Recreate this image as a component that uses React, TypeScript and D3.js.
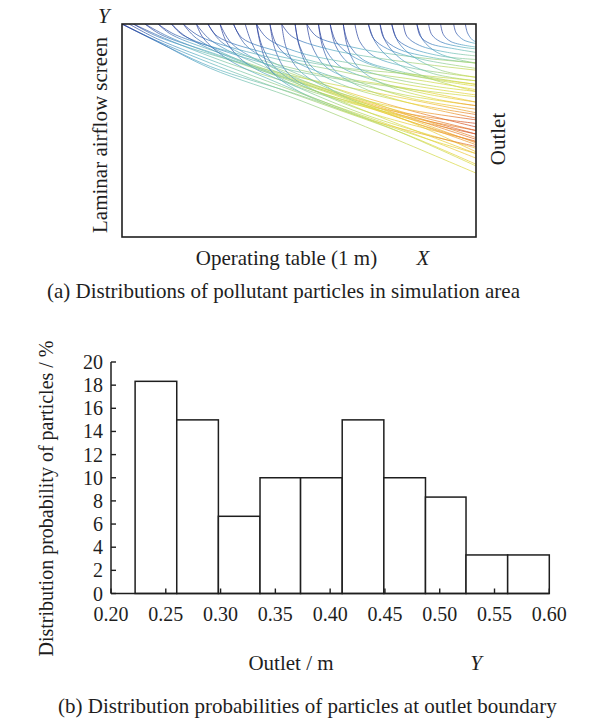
import React from "react";
import * as d3 from "d3";

const W = 591;
const H = 721;
const FONT = "'Liberation Serif', 'Times New Roman', serif";
const INK = "#1e1e1e";

// (a) particle tracks, X along the operating table (0..1 m), Y height (0..0.6 m)
const TRACKS: [number, number][][] = [
  [[0, 0.6], [0.1, 0.55], [0.25, 0.475], [0.5, 0.386], [0.75, 0.285], [1, 0.18]],
  [[0, 0.6], [0.1, 0.552], [0.3, 0.47], [0.55, 0.38], [0.8, 0.29], [1, 0.205]],
  [[0.02, 0.6], [0.1, 0.558], [0.3, 0.48], [0.6, 0.37], [0.8, 0.3], [1, 0.222]],
  [[0.032, 0.6], [0.12, 0.56], [0.3, 0.49], [0.55, 0.41], [0.8, 0.33], [1, 0.26]],
  [[0.065, 0.6], [0.13, 0.565], [0.3, 0.5], [0.55, 0.42], [0.8, 0.34], [1, 0.275]],
  [[0.102, 0.6], [0.14, 0.57], [0.3, 0.51], [0.5, 0.44], [0.75, 0.36], [1, 0.29]],
  [[0.14, 0.6], [0.18, 0.565], [0.32, 0.5], [0.55, 0.42], [0.8, 0.33], [1, 0.24]],
  [[0.173, 0.6], [0.21, 0.56], [0.35, 0.49], [0.6, 0.4], [0.8, 0.33], [1, 0.268]],
  [[0.21, 0.6], [0.25, 0.555], [0.4, 0.48], [0.6, 0.41], [0.8, 0.35], [1, 0.3]],
  [[0.243, 0.6], [0.28, 0.55], [0.4, 0.49], [0.6, 0.42], [0.8, 0.36], [1, 0.31]],
  [[0.277, 0.6], [0.31, 0.545], [0.42, 0.48], [0.62, 0.4], [0.82, 0.33], [1, 0.265]],
  [[0.315, 0.6], [0.35, 0.54], [0.45, 0.48], [0.65, 0.4], [0.85, 0.33], [1, 0.28]],
  [[0.032, 0.6], [0.1, 0.565], [0.3, 0.5], [0.5, 0.45], [0.75, 0.4], [1, 0.35]],
  [[0.102, 0.6], [0.15, 0.57], [0.35, 0.51], [0.55, 0.46], [0.8, 0.42], [1, 0.38]],
  [[0.173, 0.6], [0.22, 0.565], [0.4, 0.51], [0.6, 0.47], [0.8, 0.43], [1, 0.4]],
  [[0.348, 0.6], [0.365, 0.55], [0.4, 0.49], [0.46, 0.44], [0.6, 0.39], [0.8, 0.34], [1, 0.3]],
  [[0.38, 0.6], [0.395, 0.54], [0.43, 0.48], [0.5, 0.43], [0.65, 0.38], [0.85, 0.34], [1, 0.32]],
  [[0.418, 0.6], [0.432, 0.53], [0.47, 0.46], [0.55, 0.41], [0.7, 0.35], [1, 0.27]],
  [[0.451, 0.6], [0.465, 0.53], [0.5, 0.47], [0.58, 0.42], [0.75, 0.37], [1, 0.33]],
  [[0.489, 0.6], [0.503, 0.535], [0.54, 0.475], [0.62, 0.43], [0.8, 0.38], [1, 0.345]],
  [[0.522, 0.6], [0.536, 0.54], [0.575, 0.48], [0.66, 0.44], [0.82, 0.39], [1, 0.36]],
  [[0.555, 0.6], [0.57, 0.54], [0.61, 0.485], [0.7, 0.445], [0.85, 0.405], [1, 0.38]],
  [[0.588, 0.6], [0.603, 0.54], [0.64, 0.49], [0.73, 0.455], [0.88, 0.425], [1, 0.41]],
  [[0.625, 0.6], [0.64, 0.545], [0.68, 0.5], [0.77, 0.47], [0.9, 0.445], [1, 0.43]],
  [[0.658, 0.6], [0.672, 0.55], [0.71, 0.51], [0.8, 0.48], [0.92, 0.46], [1, 0.45]],
  [[0.38, 0.6], [0.41, 0.56], [0.5, 0.52], [0.7, 0.48], [0.85, 0.45], [1, 0.43]],
  [[0.451, 0.6], [0.48, 0.565], [0.58, 0.53], [0.75, 0.5], [1, 0.47]],
  [[0.522, 0.6], [0.55, 0.565], [0.65, 0.535], [0.8, 0.51], [1, 0.49]],
  [[0.315, 0.6], [0.34, 0.56], [0.45, 0.52], [0.65, 0.47], [0.85, 0.44], [1, 0.415]],
  [[0.243, 0.6], [0.27, 0.565], [0.4, 0.52], [0.6, 0.48], [0.8, 0.46], [1, 0.44]],
  [[0.696, 0.6], [0.71, 0.56], [0.75, 0.53], [0.85, 0.5], [1, 0.475]],
  [[0.729, 0.6], [0.74, 0.56], [0.78, 0.53], [0.88, 0.505], [1, 0.49]],
  [[0.762, 0.6], [0.775, 0.56], [0.81, 0.535], [0.9, 0.51], [1, 0.5]],
  [[0.795, 0.6], [0.805, 0.565], [0.84, 0.54], [0.92, 0.52], [1, 0.51]],
  [[0.833, 0.6], [0.843, 0.565], [0.87, 0.545], [0.94, 0.53], [1, 0.52]],
  [[0.866, 0.6], [0.875, 0.57], [0.9, 0.55], [0.96, 0.535], [1, 0.53]],
  [[0.9, 0.6], [0.908, 0.57], [0.93, 0.55], [1, 0.535]],
  [[0.937, 0.6], [0.944, 0.575], [0.965, 0.555], [1, 0.545]],
  [[0.97, 0.6], [0.976, 0.575], [0.99, 0.555], [1, 0.55]],
  [[0.696, 0.6], [0.715, 0.55], [0.76, 0.5], [0.86, 0.45], [1, 0.41]],
  [[0.762, 0.6], [0.78, 0.55], [0.82, 0.51], [0.9, 0.47], [1, 0.45]],
  [[0.833, 0.6], [0.85, 0.555], [0.89, 0.52], [0.95, 0.5], [1, 0.49]],
  [[0.21, 0.6], [0.23, 0.56], [0.3, 0.5], [0.45, 0.43], [0.65, 0.35], [0.85, 0.28], [1, 0.235]],
  [[0.277, 0.6], [0.295, 0.55], [0.35, 0.49], [0.5, 0.42], [0.7, 0.34], [1, 0.25]],
  [[0.38, 0.6], [0.392, 0.54], [0.42, 0.47], [0.5, 0.41], [0.7, 0.33], [1, 0.255]],
  [[0.418, 0.6], [0.435, 0.545], [0.48, 0.5], [0.6, 0.45], [0.8, 0.4], [1, 0.37]],
  [[0.489, 0.6], [0.5, 0.54], [0.53, 0.47], [0.6, 0.41], [0.75, 0.35], [1, 0.29]],
  [[0.555, 0.6], [0.567, 0.535], [0.6, 0.47], [0.68, 0.42], [0.84, 0.37], [1, 0.335]],
  [[0.14, 0.6], [0.17, 0.57], [0.3, 0.52], [0.5, 0.465], [0.75, 0.425], [1, 0.395]],
  [[0.065, 0.6], [0.11, 0.57], [0.28, 0.51], [0.5, 0.43], [0.75, 0.33], [1, 0.235]],
  [[0.588, 0.6], [0.605, 0.55], [0.65, 0.51], [0.75, 0.47], [0.9, 0.44], [1, 0.425]],
  [[0.625, 0.6], [0.636, 0.54], [0.665, 0.48], [0.74, 0.43], [0.88, 0.39], [1, 0.37]],
  [[0.729, 0.6], [0.745, 0.55], [0.79, 0.5], [0.88, 0.46], [1, 0.44]],
  [[0, 0.6], [0.08, 0.56], [0.25, 0.48], [0.5, 0.4], [0.75, 0.31], [1, 0.2]],
];

// colour reached at the outlet, 0 = blue .. 1 = red
const TRACK_END: number[] = [
  0.62, 0.66, 0.7, 0.8, 0.88, 0.92, 0.72, 0.85, 0.9, 0.95, 0.8, 0.85,
  0.78, 0.7, 0.65,
  0.9, 0.95, 0.85, 0.92, 0.85, 0.78, 0.72, 0.65, 0.6, 0.55,
  0.62, 0.56, 0.52, 0.64, 0.6,
  0.5, 0.45, 0.42, 0.4, 0.36, 0.33, 0.3, 0.28, 0.25,
  0.62, 0.57, 0.46,
  0.68, 0.72, 0.9, 0.7, 0.95, 0.88, 0.6, 0.7, 0.62, 0.8, 0.55, 0.6,
];

const JET = ["#27399a", "#3569b8", "#55b3cf", "#86cca7", "#b4d75a", "#e9df3c", "#f2b233", "#e26a2b", "#c63826"];

// (b) outlet histogram
const BIN_EDGES = [0.222, 0.26, 0.298, 0.336, 0.373, 0.411, 0.449, 0.487, 0.524, 0.562, 0.6];
const PROBS = [18.33, 15, 6.67, 10, 10, 15, 10, 8.33, 3.33, 3.33];
const X_TICKS = [0.2, 0.25, 0.3, 0.35, 0.4, 0.45, 0.5, 0.55, 0.6];
const Y_TICKS = [0, 2, 4, 6, 8, 10, 12, 14, 16, 18, 20];

const BOX = { left: 122, right: 476, top: 24, bottom: 237 };
const HIST = { left: 111, right: 549.3, top: 362, bottom: 593.5 };

export default function App() {
  const sx = d3.scaleLinear().domain([0, 1]).range([BOX.left, BOX.right]);
  const sy = d3.scaleLinear().domain([0, 0.6]).range([BOX.bottom, BOX.top]);
  const jet = d3.interpolateRgbBasis(JET);
  const line = d3
    .line<[number, number]>()
    .x(d => sx(d[0]))
    .y(d => sy(d[1]))
    .curve(d3.curveCatmullRom.alpha(0.5));
  const offsets = d3.range(0, 1.0001, 0.1);

  const hx = d3.scaleLinear().domain([0.2, 0.6]).range([HIST.left, HIST.right]);
  const hy = d3.scaleLinear().domain([0, 20]).range([HIST.bottom, HIST.top]);

  return (
    <svg width={W} height={H} style={{ position: "absolute", left: 0, top: 0, background: "#fff" }} fontFamily={FONT}>
      <defs>
        <clipPath id="boxClip">
          <rect x={BOX.left} y={BOX.top} width={BOX.right - BOX.left} height={BOX.bottom - BOX.top} />
        </clipPath>
        {TRACKS.map((pts, i) => (
          <linearGradient key={i} id={`trk${i}`} gradientUnits="userSpaceOnUse" x1={sx(pts[0][0])} x2={sx(1)} y1={0} y2={0}>
            {offsets.map(o => (
              <stop key={o} offset={o} stopColor={jet(TRACK_END[i] * Math.pow(o, 0.6))} />
            ))}
          </linearGradient>
        ))}
      </defs>

      {/* panel (a) */}
      <g clipPath="url(#boxClip)">
        {TRACKS.map((pts, i) => (
          <path key={i} d={line(pts) ?? ""} fill="none" stroke={`url(#trk${i})`} strokeWidth={0.9} strokeOpacity={0.8} />
        ))}
      </g>
      <rect x={BOX.left} y={BOX.top} width={BOX.right - BOX.left} height={BOX.bottom - BOX.top} fill="none" stroke={INK} strokeWidth={1.6} />
      <text x={98} y={23} fontSize={21} fontStyle="italic" fill={INK}>Y</text>
      <text transform="translate(107,135) rotate(-90)" textAnchor="middle" fontSize={21} fill={INK}>
        Laminar airflow screen
      </text>
      <text transform="translate(505,139) rotate(-90)" textAnchor="middle" fontSize={21} fill={INK}>Outlet</text>
      <text x={286.5} y={265} textAnchor="middle" fontSize={21} fill={INK}>Operating table (1 m)</text>
      <text x={423} y={265} textAnchor="middle" fontSize={21} fontStyle="italic" fill={INK}>X</text>
      <text x={47} y={298} fontSize={21} fill={INK}>(a) Distributions of pollutant particles in simulation area</text>

      {/* panel (b) */}
      {PROBS.map((p, i) => (
        <rect
          key={i}
          x={hx(BIN_EDGES[i])}
          y={hy(p)}
          width={hx(BIN_EDGES[i + 1]) - hx(BIN_EDGES[i])}
          height={hy(0) - hy(p)}
          fill="#fff"
          stroke={INK}
          strokeWidth={1.5}
        />
      ))}
      <line x1={HIST.left} x2={HIST.left} y1={HIST.top} y2={HIST.bottom} stroke={INK} strokeWidth={1.5} />
      <line x1={HIST.left} x2={HIST.right} y1={HIST.bottom} y2={HIST.bottom} stroke={INK} strokeWidth={1.5} />
      {Y_TICKS.map(t => (
        <g key={t}>
          <line x1={HIST.left} x2={HIST.left + 5} y1={hy(t)} y2={hy(t)} stroke={INK} strokeWidth={1.4} />
          <text x={103} y={hy(t)} dy="0.35em" textAnchor="end" fontSize={20} fill={INK}>{t}</text>
        </g>
      ))}
      {X_TICKS.map(t => (
        <g key={t}>
          <line x1={hx(t)} x2={hx(t)} y1={HIST.bottom} y2={HIST.bottom - 5} stroke={INK} strokeWidth={1.4} />
          <text x={hx(t)} y={621} textAnchor="middle" fontSize={20} fill={INK}>{t.toFixed(2)}</text>
        </g>
      ))}
      <text transform={`translate(53,${(345 + 652) / 2}) rotate(-90)`} textAnchor="middle" fontSize={20} fill={INK}>
        Distribution probability of particles / %
      </text>
      <text x={291} y={670} textAnchor="middle" fontSize={21} fill={INK}>Outlet / m</text>
      <text x={476} y={670} textAnchor="middle" fontSize={21} fontStyle="italic" fill={INK}>Y</text>
      <text x={58} y={713} fontSize={21} fill={INK}>(b) Distribution probabilities of particles at outlet boundary</text>
    </svg>
  );
}
